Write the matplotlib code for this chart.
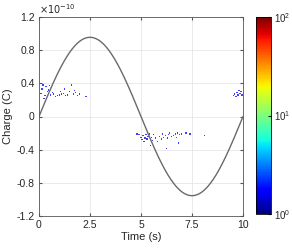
import numpy as np
import matplotlib
matplotlib.use("Agg")
import matplotlib.pyplot as plt
from matplotlib.colors import LogNorm

plt.rcParams['font.family'] = ['Liberation Sans', 'DejaVu Sans']

# sine reference curve (amplitude in units of 1e-10 C)
t_curve = np.linspace(0, 10, 400)
amp = 0.955
period = 10.0

# scattered charge samples (s, 1e-10 C)
t1 = [0.1, 0.15, 0.2, 0.25, 0.3, 0.35, 0.4, 0.45, 0.5, 0.55, 0.6, 0.65, 0.7, 0.8, 0.9,
      1.0, 1.05, 1.1, 1.2, 1.25, 1.3, 1.4, 1.5, 1.6, 1.7, 1.75, 1.8, 1.9, 2.0, 2.3]
q1 = [0.28, 0.33, 0.38, 0.22, 0.25, 0.36, 0.30, 0.32, 0.37, 0.26, 0.35, 0.29, 0.27, 0.24, 0.25,
      0.26, 0.30, 0.27, 0.28, 0.33, 0.25, 0.26, 0.30, 0.38, 0.27, 0.31, 0.29, 0.25, 0.27, 0.24]
t2 = [4.8, 4.9, 5.0, 5.05, 5.1, 5.15, 5.2, 5.25, 5.3, 5.35, 5.4, 5.5, 5.55, 5.6, 5.7, 5.8,
      5.9, 6.0, 6.05, 6.1, 6.2, 6.3, 6.35, 6.4, 6.5, 6.6, 6.7, 6.75, 6.8, 6.9, 7.0, 7.2, 7.4, 8.1,
      5.45, 6.25, 6.85]
q2 = [-0.21, -0.22, -0.25, -0.28, -0.23, -0.30, -0.26, -0.22, -0.27, -0.24, -0.21, -0.25, -0.29,
      -0.22, -0.26, -0.30, -0.24, -0.27, -0.21, -0.25, -0.23, -0.26, -0.22, -0.20, -0.24, -0.23,
      -0.21, -0.25, -0.20, -0.22, -0.21, -0.20, -0.21, -0.23,
      -0.35, -0.39, -0.32]
t3 = [9.55, 9.6, 9.65, 9.7, 9.75, 9.8, 9.85, 9.9, 9.95]
q3 = [0.25, 0.27, 0.24, 0.29, 0.26, 0.31, 0.28, 0.30, 0.26]
counts = 1.6

x_ticks = [0, 2.5, 5, 7.5, 10]
x_labels = ['0', '2.5', '5', '7.5', '10']
y_ticks = [-1.2, -0.8, -0.4, 0, 0.4, 0.8, 1.2]
y_labels = ['-1.2', '-0.8', '-0.4', '0', '0.4', '0.8', '1.2']

fig = plt.figure(figsize=(2.92, 2.48), dpi=100)
ax = fig.add_axes([39/292, 32/248, 204/292, 199/248])
cax = fig.add_axes([256/292, 34/248, 15/292, 197/248])

ax.plot(t_curve, amp * np.sin(2 * np.pi * t_curve / period), color='#6a6a6a', lw=1.0)

ts = t1 + t2 + t3
qs = q1 + q2 + q3
sc = ax.scatter(ts, qs, c=[counts] * len(ts), cmap='jet', norm=LogNorm(1, 100),
                s=0.9, marker='s', linewidths=0, alpha=0.75)

ax.set_xlim(0, 10)
ax.set_ylim(-1.2, 1.2)
ax.set_xticks(x_ticks)
ax.set_xticklabels(x_labels)
ax.set_yticks(y_ticks)
ax.set_yticklabels(y_labels)
ax.grid(True, color='#e6e6e6', lw=0.6)
ax.set_axisbelow(True)
ax.tick_params(direction='in', length=2.5, labelsize=7.5, color='#555555',
               labelcolor='#262626', top=True, right=True, pad=3)
for s in ax.spines.values():
    s.set_color('#555555')
    s.set_linewidth(0.6)
ax.set_xlabel('Time (s)', fontsize=8, labelpad=1, color='#262626')
ax.set_ylabel('Charge (C)', fontsize=8, labelpad=3, color='#262626')
ax.text(0.0, 1.005, r'$\times10^{-10}$', transform=ax.transAxes, fontsize=7,
        ha='left', va='bottom', color='#262626')

cb = fig.colorbar(sc, cax=cax)
cb.solids.set_alpha(1)
cb.set_ticks([1, 10, 100])
cb.ax.tick_params(labelsize=7, direction='in', length=2.5, pad=2, labelcolor='#262626')
cb.ax.tick_params(which='minor', length=0)
cb.outline.set_linewidth(0.6)

fig.savefig('out.png', dpi=100)
